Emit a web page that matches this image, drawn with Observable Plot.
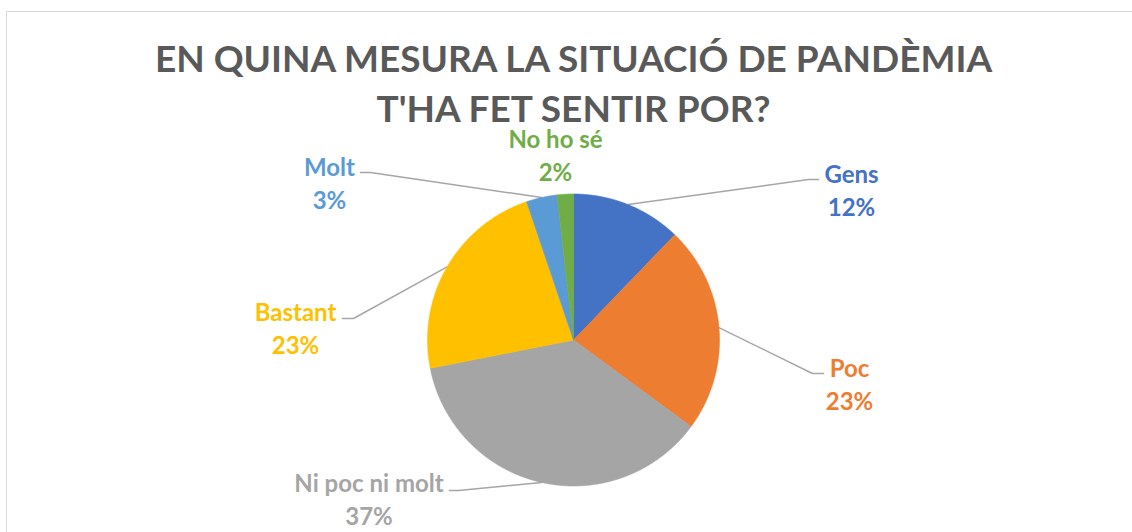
<!DOCTYPE html>
<html>
<head>
<meta charset="utf-8">
<script src="https://cdn.jsdelivr.net/npm/d3@7"></script>
<script src="https://cdn.jsdelivr.net/npm/@observablehq/plot@0.6"></script>
<style>
  html, body { margin: 0; padding: 0; background: #fff; overflow: hidden; width: 1132px; height: 532px; }
  #frame { position: absolute; left: 6px; top: 11px; width: 1200px; height: 600px; border: 1px solid #d9d9d9; box-sizing: border-box; }
  #title { position: absolute; left: 6px; top: 33px; width: 1135px; text-align: center;
           font-family: Lato, sans-serif; font-weight: 700; font-size: 37px; line-height: 50px; color: #595959; white-space: nowrap; }
  #chart { position: absolute; left: 0; top: 120px; }
</style>
</head>
<body>
<div id="frame"></div>
<div id="title">EN QUINA MESURA LA SITUACIÓ DE PANDÈMIA<br>T'HA FET SENTIR POR?</div>
<div id="chart"></div>
<script>
// ---- data ----
const categories = ["Gens", "Poc", "Ni poc ni molt", "Bastant", "Molt", "No ho sé"];
const values = [12.2, 22.9, 36.8, 22.9, 3.4, 1.8];
const colors = ["#4472C4", "#ED7D31", "#A5A5A5", "#FFC000", "#5B9BD5", "#70AD47"];

// ---- layout (pixels relative to pie centre, screen y down) ----
const labelCenter = [[278, -151.5], [276, 42.5], [-204.5, 158], [-278, -13], [-244, -158.5], [-18, -186]];
const leaderElbow = [[235, -160.5], [239, 33.5], [-115, 150.5], [-220, -21.5], [-203, -167.5], null];
const leaderEnd   = [[245, -160.5], [250, 33.5], [-124, 150.5], [-231, -21.5], [-213, -167.5], null];

const W = 1132, H = 412, CX = 573, CY = 219.5, R = 146;
const total = d3.sum(values);
const toUnit = ([px, py]) => ({x: px / R, y: -py / R});

const slices = [], leaderPts = [], labels = [];
let acc = 0;
categories.forEach((cat, i) => {
  const a0 = acc / total * 2 * Math.PI;
  acc += values[i];
  const a1 = acc / total * 2 * Math.PI;
  const n = Math.max(2, Math.ceil((a1 - a0) / 0.004));
  const pts = [{cat, x: 0, y: 0}];
  for (let k = 0; k <= n; k++) {
    const t = a0 + (a1 - a0) * k / n;
    pts.push({cat, x: Math.sin(t), y: Math.cos(t)});
  }
  pts.push({cat, x: 0, y: 0});
  slices.push(pts);
  const am = (a0 + a1) / 2;
  if (leaderElbow[i]) {
    leaderPts.push({cat, x: Math.sin(am), y: Math.cos(am)});
    leaderPts.push({cat, ...toUnit(leaderElbow[i])});
    leaderPts.push({cat, ...toUnit(leaderEnd[i])});
  }
  labels.push({cat, pct: Math.round(values[i] / total * 100) + "%", ...toUnit(labelCenter[i])});
});

const chart = Plot.plot({
  width: W,
  height: H,
  margin: 0,
  x: {domain: [-CX / R, (W - CX) / R], axis: null},
  y: {domain: [-(H - CY) / R, CY / R], axis: null},
  color: {domain: categories, range: colors},
  style: {background: "transparent", overflow: "visible"},
  marks: [
    Plot.line(leaderPts, {x: "x", y: "y", z: "cat", stroke: "#a6a6a6", strokeWidth: 1.5, curve: "linear"}),
    ...slices.map((pts, i) => Plot.line(pts, {x: "x", y: "y", fill: colors[i], stroke: colors[i], strokeWidth: 0.6, curve: "linear"})),
    Plot.text(labels, {x: "x", y: "y", text: d => d.cat + "\n" + d.pct, fill: "cat",
      fontSize: 24, fontWeight: "bold", fontFamily: "Lato, sans-serif", lineHeight: 1.38, textAnchor: "middle"})
  ]
});
document.getElementById("chart").appendChild(chart);
</script>
</body>
</html>
